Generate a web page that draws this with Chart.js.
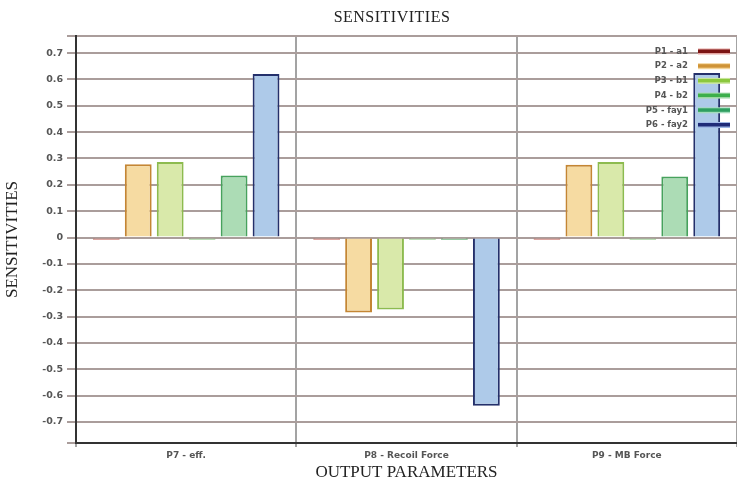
<!DOCTYPE html>
<html>
<head>
<meta charset="utf-8">
<script src="https://cdn.jsdelivr.net/npm/chart.js@4/dist/chart.umd.min.js"></script>
<style>
  html, body { margin: 0; padding: 0; background: #ffffff; overflow: hidden; }
  #wrap { position: relative; width: 737px; height: 481px; }
</style>
</head>
<body>
<div id="wrap"><canvas id="chart"></canvas></div>
<script>
// Output parameters (categories along x)
const categories = ['P7 - eff.', 'P8 - Recoil Force', 'P9 - MB Force'];

// Sensitivity of each output to each input parameter
const seriesNames = ['P1 - a1', 'P2 - a2', 'P3 - b1', 'P4 - b2', 'P5 - fay1', 'P6 - fay2'];
const p1 = [-0.008, -0.008, -0.008];
const p2 = [0.278, -0.285, 0.276];
const p3 = [0.287, -0.273, 0.287];
const p4 = [-0.008, -0.008, -0.008];
const p5 = [0.235, -0.008, 0.232];
const p6 = [0.621, -0.639, 0.625];

// Labelled y ticks
const tickValues = [-0.7, -0.6, -0.5, -0.4, -0.3, -0.2, -0.1, 0, 0.1, 0.2, 0.3, 0.4, 0.5, 0.6, 0.7];
const yMin = -0.78;
const yMax = 0.765;

const fills   = ['#d9857c', '#f6dba2', '#d9e9aa', '#9fd19a', '#acdcb5', '#aecae9'];
const borders = ['#c0625a', '#c48634', '#8dbb4f', '#86c27c', '#47a25d', '#24306b'];
const swatch  = ['#7c1414', '#cf9336', '#8cc83e', '#3caf4b', '#2e9f60', '#1f2b78'];
const swatchEdge = ['#e4a4a0', '#f3d49a', '#cde8a4', '#a9dcae', '#a3dcbc', '#9fb8e6'];

const values = [p1, p2, p3, p4, p5, p6];

const datasets = seriesNames.map((name, i) => ({
  label: name,
  data: values[i],
  backgroundColor: fills[i],
  borderColor: borders[i],
  borderWidth: 2,
  categoryPercentage: 0.87,
  barPercentage: 0.84
}));

// Chart heading, placed over the plot
const headingPlugin = {
  id: 'heading',
  afterDraw(chart) {
    const ctx = chart.ctx;
    ctx.save();
    ctx.font = '16px "Liberation Serif", "DejaVu Serif", serif';
    ctx.letterSpacing = '0.5px';
    ctx.fillStyle = '#222222';
    ctx.textAlign = 'center';
    ctx.textBaseline = 'middle';
    ctx.fillText('SENSITIVITIES', 392, 18);
    ctx.restore();
  }
};

// Series key drawn inside the top-right corner of the plot
const keyPlugin = {
  id: 'seriesKey',
  afterDatasetsDraw(chart) {
    const ctx = chart.ctx;
    const area = chart.chartArea;
    ctx.save();
    ctx.font = 'bold 8.5px "DejaVu Sans", sans-serif';
    ctx.textAlign = 'right';
    ctx.textBaseline = 'middle';
    chart.data.datasets.forEach((ds, i) => {
      const y = area.top + 15.5 + i * 14.7;
      const x1 = area.right - 39;
      const x2 = area.right - 7;
      ctx.fillStyle = '#555555';
      ctx.fillText(ds.label, area.right - 49, y);
      ctx.fillStyle = swatchEdge[i];
      ctx.fillRect(x1, y - 3, x2 - x1, 6);
      ctx.fillStyle = swatch[i];
      ctx.fillRect(x1, y - 2, x2 - x1, 3.5);
    });
    ctx.restore();
  }
};

new Chart(document.getElementById('chart'), {
  type: 'bar',
  data: { labels: categories, datasets },
  options: {
    responsive: true,
    maintainAspectRatio: false,
    animation: false,
    layout: { padding: { top: 36, right: 0, bottom: 0, left: 0 } },
    plugins: {
      legend: { display: false },
      title: { display: false },
      tooltip: { enabled: false }
    },
    scales: {
      x: {
        afterFit(scale) { scale.height = 38; },
        grid: { offset: true, color: '#a3a3a3', lineWidth: 2, tickLength: 4 },
        border: { color: '#333333', width: 2 },
        ticks: {
          padding: 3,
          color: '#555555',
          font: { family: '"DejaVu Sans", sans-serif', size: 9, weight: 'bold' }
        },
        title: {
          display: true,
          text: 'OUTPUT PARAMETERS',
          color: '#222222',
          padding: { top: 0, bottom: 0 },
          font: { family: '"Liberation Serif", "DejaVu Serif", serif', size: 17, lineHeight: 1.0 }
        }
      },
      y: {
        min: yMin,
        max: yMax,
        afterFit(scale) { scale.width = 76; },
        afterBuildTicks(scale) {
          scale.ticks = [yMin, ...tickValues, yMax].map(v => ({ value: v }));
        },
        grid: { color: '#aa9d9b', lineWidth: 2, tickLength: 9 },
        border: { color: '#333333', width: 2 },
        ticks: {
          padding: 4,
          color: '#555555',
          font: { family: '"DejaVu Sans", sans-serif', size: 9.5, weight: 'bold' },
          callback(value) {
            if (!tickValues.some(t => Math.abs(t - value) < 1e-9)) return '';
            return Math.abs(value) < 1e-9 ? '0' : value.toFixed(1);
          }
        },
        title: {
          display: true,
          text: 'SENSITIVITIES',
          color: '#222222',
          padding: { top: 2, bottom: 0 },
          font: { family: '"Liberation Serif", "DejaVu Serif", serif', size: 17, lineHeight: 1.2 }
        }
      }
    }
  },
  plugins: [keyPlugin, headingPlugin]
});
</script>
</body>
</html>
